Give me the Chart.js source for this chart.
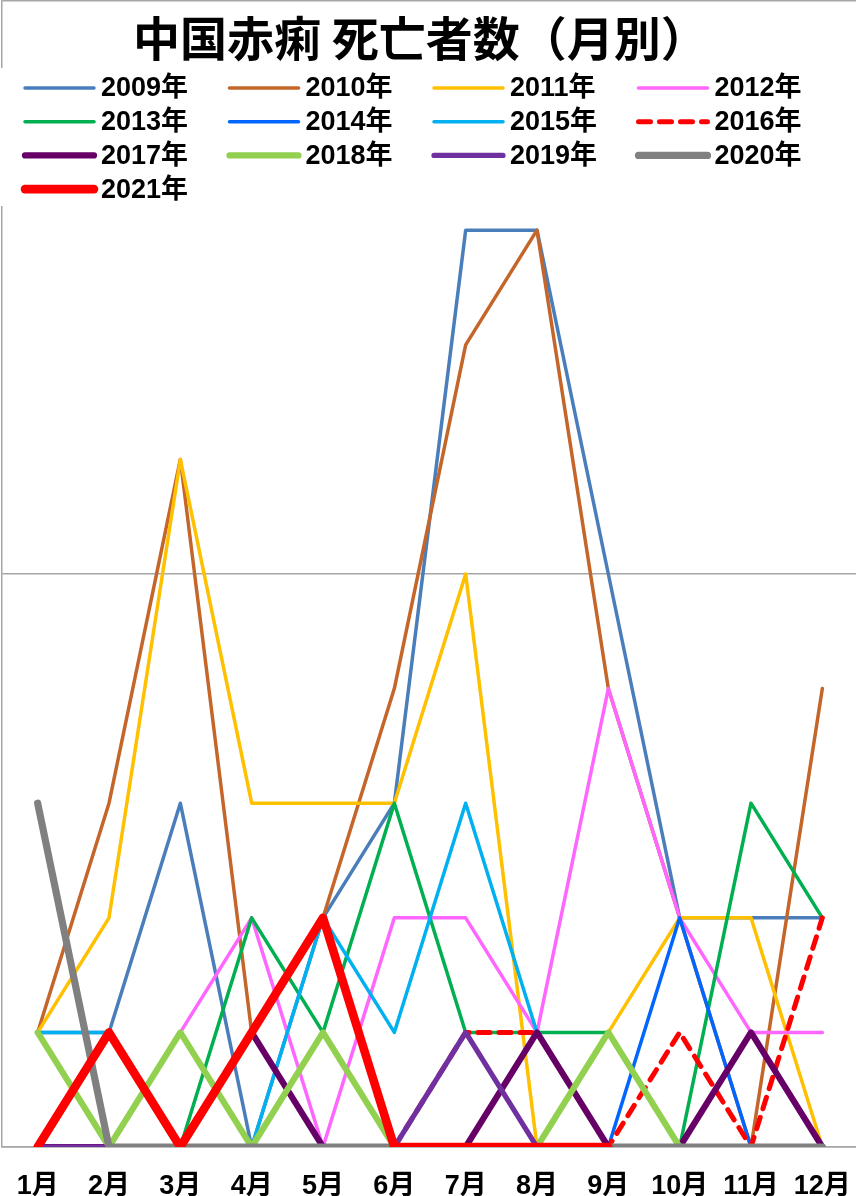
<!DOCTYPE html>
<html>
<head>
<meta charset="utf-8">
<script src="https://cdn.jsdelivr.net/npm/chart.js@4/dist/chart.umd.min.js"></script>
<style>
html,body{margin:0;padding:0;background:#fff;overflow:hidden;width:856px;height:1196px;}
canvas{display:block;}
</style>
</head>
<body>
<canvas id="c" width="858" height="1196"></canvas>
<script>
const months = ['1月','2月','3月','4月','5月','6月','7月','8月','9月','10月','11月','12月'];
const seriesNames = ['2009年','2010年','2011年','2012年','2013年','2014年','2015年','2016年','2017年','2018年','2019年','2020年','2021年'];
const y2009 = [1,1,3,0,2,3,8,8,5,2,2,2];
const y2010 = [1,3,6,1,2,4,7,8,4,2,0,4];
const y2011 = [1,2,6,3,3,3,5,0,1,2,2,0];
const y2012 = [0,0,1,2,0,2,2,1,4,2,1,1];
const y2013 = [0,0,0,2,1,3,1,1,1,0,3,2];
const y2014 = [0,0,0,0,0,0,0,0,0,2,0,0];
const y2015 = [1,1,0,0,2,1,3,1,0,0,0,0];
const y2016 = [0,0,0,0,0,0,1,1,0,1,0,2];
const y2017 = [0,0,0,1,0,0,0,1,0,0,1,0];
const y2018 = [1,0,1,0,1,0,0,0,1,0,0,0];
const y2019 = [0,0,0,0,0,0,1,0,0,0,0,0];
const y2020 = [3,0,0,0,0,0,0,0,0,0,0,0];
const y2021 = [0,1,0,1,2,0,0,0,0,null,null,null];
const allValues = [y2009,y2010,y2011,y2012,y2013,y2014,y2015,y2016,y2017,y2018,y2019,y2020,y2021];
const yTicks = [0,5,10];

const colors = ['#4A7EBB','#C4652A','#FFC000','#FF66FF','#00B050','#0066FF','#00B0F0','#FF0000','#660066','#92D050','#7030A0','#808080','#FF0000'];
const widths = [3.5,3.5,3.5,3.5,3.5,3.5,3.5,5,6.2,6.2,5.2,7.2,8.6];
const dashes = [[],[],[],[],[],[],[],[12,9],[],[],[],[],[]];

const N = seriesNames.length;
const datasets = seriesNames.map((name,i)=>({
  label: name,
  data: allValues[i],
  borderColor: colors[i],
  backgroundColor: colors[i],
  borderWidth: widths[i],
  borderDash: dashes[i],
  borderCapStyle: 'round',
  borderJoinStyle: 'round',
  pointRadius: 0,
  pointHoverRadius: 0,
  tension: 0,
  fill: false,
  spanGaps: false,
  order: N-1-i
}));

const FONT_FAM = "'Liberation Sans','Noto Sans CJK JP',sans-serif";

const overlay = {
  id: 'overlay',
  afterDraw(chart){
    const ctx = chart.ctx;
    ctx.save();
    ctx.fillStyle = '#000';
    ctx.font = "bold 47px 'Noto Sans CJK JP',sans-serif";
    ctx.textAlign = 'left';
    ctx.textBaseline = 'middle';
    ctx.fillText('中国赤痢 死亡者数（月別）', 133, 38);
    ctx.fillStyle = '#fff';
    ctx.fillRect(0, 68, 856, 138);
    chart.data.datasets.forEach((ds,i)=>{
      const col = i % 4, row = Math.floor(i/4);
      const x0 = 25 + col*204.5;
      const y = 88 + row*33.7;
      ctx.save();
      ctx.strokeStyle = ds.borderColor;
      ctx.lineWidth = ds.borderWidth;
      ctx.lineCap = 'round';
      ctx.setLineDash(ds.borderDash || []);
      ctx.beginPath();
      ctx.moveTo(x0, y);
      ctx.lineTo(x0+69, y);
      ctx.stroke();
      ctx.restore();
      ctx.fillStyle = '#000';
      ctx.font = "bold 27px " + FONT_FAM;
      ctx.textAlign = 'left';
      ctx.textBaseline = 'middle';
      ctx.fillText(ds.label, x0+76, y+1);
    });
    ctx.restore();
  }
};

new Chart(document.getElementById('c'), {
  type: 'line',
  data: { labels: months, datasets },
  options: {
    responsive: false,
    devicePixelRatio: 1,
    animation: false,
    layout: { padding: { top: 1, left: 0, right: 0, bottom: 0 } },
    plugins: { legend: { display: false }, title: { display: false }, tooltip: { enabled: false } },
    scales: {
      x: {
        offset: true,
        grid: { display: false, drawTicks: false },
        border: { display: true, color: '#A6A6A6', width: 1.5 },
        ticks: { color: '#000', font: { family: FONT_FAM, size: 27, weight: 'bold' }, padding: 23, maxRotation: 0, autoSkip: false },
        afterFit(scale){ scale.height = 49; scale.paddingLeft = 0; scale.paddingRight = 0; }
      },
      y: {
        min: 0, max: 10,
        afterBuildTicks(scale){ scale.ticks = yTicks.map(v=>({value:v})); },
        grid: { color: '#A6A6A6', lineWidth: 1.5, drawTicks: false },
        border: { display: true, color: '#A6A6A6', width: 1.5 },
        ticks: { display: false },
        afterFit(scale){ scale.width = 2; scale.paddingTop = 0; scale.paddingBottom = 0; }
      }
    }
  },
  plugins: [overlay]
});
</script>
</body>
</html>
